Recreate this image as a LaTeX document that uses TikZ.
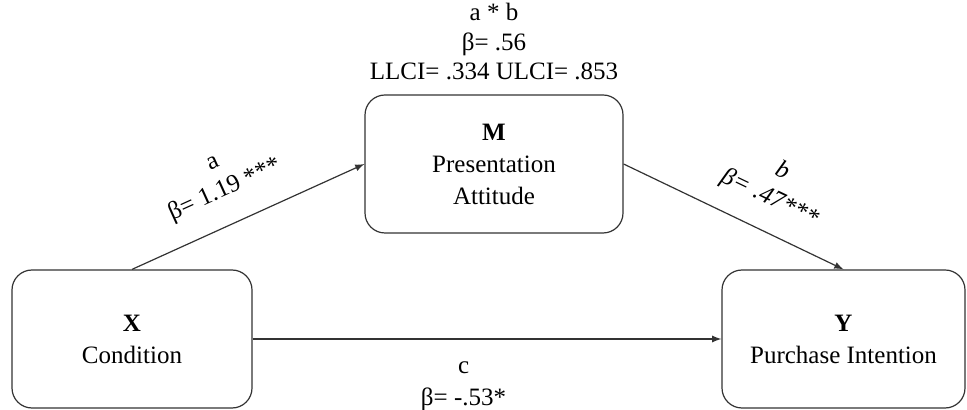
\documentclass[tikz,border=0pt]{standalone}
\usepackage{fontspec}
\setmainfont{Liberation Serif}
\usetikzlibrary{positioning,shapes,arrows}

\tikzset{
	var/.style={draw=black!80, line width=0.6pt, rounded corners=10pt, minimum width=120pt, minimum height=69pt, inner sep=0pt, align=center, font=\fontsize{12.5}{16}\selectfont},
	lbl/.style={align=center, inner sep=1pt, font=\fontsize{12.5}{14.75}\selectfont},
}

\begin{document}
\begin{tikzpicture}[x=0.5pt,y=-0.5pt]
	\useasboundingbox (0,0) rectangle (967,410);
	\node[var] (X) at (132,339) {\textbf{X}\\Condition};
	\node[var,minimum width=129pt] (M) at (494,164) {\textbf{M}\\Presentation\\Attitude};
	\node[var,minimum width=121.5pt] (Y) at (843.5,339) {\textbf{Y}\\Purchase Intention};
	%
	\node[lbl,above=6pt of M] (ab) {a * b\\β= .56\\LLCI= .334 ULCI= .853};
	%
	{
	\pgfsetarrows{-latex}
	\path (X.north) edge[-latex,draw=black!80,line width=0.6pt] node[lbl,sloped,above=10pt,pos=.46]{a\\β= 1.19 ***} (M.west);
	\path (M.east) edge[-latex,draw=black!80,line width=0.6pt] node[lbl,sloped,above=9pt,pos=.6,font=\fontsize{12.5}{14.75}\selectfont\itshape]{b\\β= .47***} (Y.north);
	\path (X.east) edge[-latex,draw=black!80,line width=0.6pt] node[lbl,below=10pt,pos=.45,font=\fontsize{12.5}{16}\selectfont]{c\\β= -.53*} (Y.west);
	}
\end{tikzpicture}
\end{document}
